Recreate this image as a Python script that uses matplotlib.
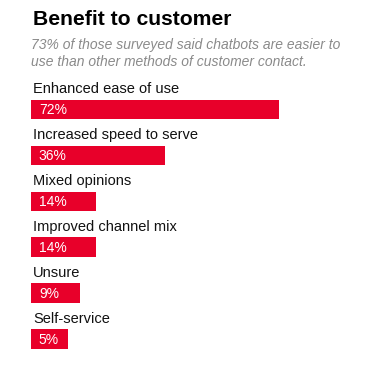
import matplotlib.pyplot as plt
import numpy as np

plt.rcParams["font.family"] = ["Liberation Sans", "DejaVu Sans"]

categories = [
    "Enhanced ease of use",
    "Increased speed to serve",
    "Mixed opinions",
    "Improved channel mix",
    "Unsure",
    "Self-service",
]
values = [72, 36, 14, 14, 9, 5]
value_labels = ["72%", "36%", "14%", "14%", "9%", "5%"]

title = "Benefit to customer"
subtitle_lines = [
    "73% of those surveyed said chatbots are easier to",
    "use than other methods of customer contact.",
]

W, H = 369, 365
fig = plt.figure(figsize=(W / 100, H / 100), dpi=100)

px_per_unit = 3.15
row = 45.9
ax = fig.add_axes([31 / W, 0.8 / H, 338 / W, 6.55 * row / H])
ax.set_xlim(0, 338 / px_per_unit)
ax.set_ylim(5.55, -1.0)
ax.axis("off")

pad = 6.6  # min width so the label fits
y = np.arange(len(categories))
ax.barh(y, np.array(values) + pad, height=0.425, left=0, color="#e8002a")

for i, (cat, lab) in enumerate(zip(categories, value_labels)):
    ax.text(0.6, i - 0.355, cat, fontsize=10.5, color="#111111", va="baseline", ha="left")
    ax.text(2.5, i + 0.1, lab, fontsize=10, color="white", va="baseline", ha="left")

fig.text(33 / W, 1 - 25 / H, title, fontsize=15.2, fontweight="bold", color="black",
         va="baseline", ha="left")
fig.text(31 / W, 1 - 49.3 / H, subtitle_lines[0], fontsize=10, style="italic",
         color="#8a8a8a", va="baseline", ha="left")
fig.text(31 / W, 1 - 65.7 / H, subtitle_lines[1], fontsize=10, style="italic",
         color="#8a8a8a", va="baseline", ha="left")

fig.savefig("out.png", dpi=100, facecolor="white")
